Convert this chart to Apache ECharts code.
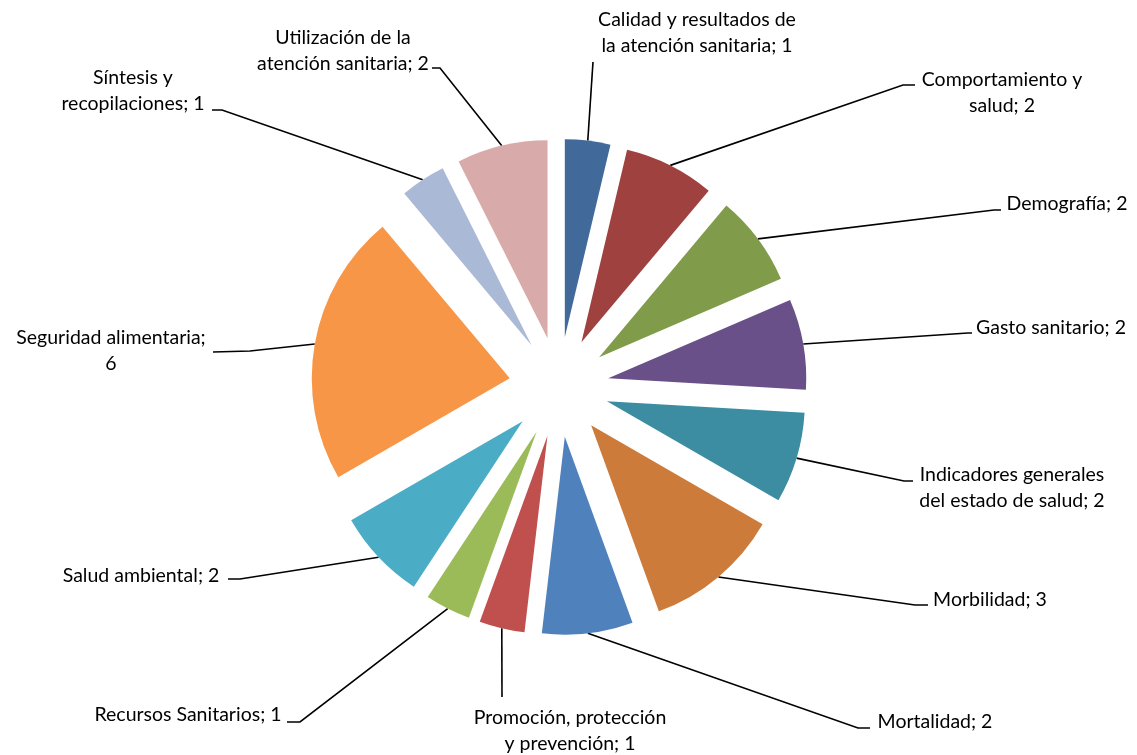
<!DOCTYPE html>
<html>
<head>
<meta charset="utf-8">
<script src="https://cdn.jsdelivr.net/npm/echarts@6/dist/echarts.min.js"></script>
<style>
html,body{margin:0;padding:0;background:#fff;}
#chart{width:1137px;height:755px;}
</style>
</head>
<body>
<div id="chart"></div>
<script>
// ---- data ----
const categories = [
  'Calidad y resultados de\nla atención sanitaria',
  'Comportamiento y\nsalud',
  'Demografía',
  'Gasto sanitario',
  'Indicadores generales\ndel estado de salud',
  'Morbilidad',
  'Mortalidad',
  'Promoción, protección\ny prevención',
  'Recursos Sanitarios',
  'Salud ambiental',
  'Seguridad alimentaria',
  'Síntesis y\nrecopilaciones',
  'Utilización de la\natención sanitaria'
];
const values = [1, 2, 2, 2, 2, 3, 2, 1, 1, 2, 6, 1, 2];
const colors = ['#416A9A','#9E413F','#809C4A','#6A5088','#3C8CA2','#CC7B3A','#4F81BD','#C0504D','#9BBB59','#4BACC6','#F79646','#AAB9D6','#D9AAAA'];
// categories whose label breaks after the separator
const breakAfterSep = ['Seguridad alimentaria'];

// ---- layout ----
const CENTER = [559, 387];
const RADIUS = 198;
const EXPLODE = 50;
// label text centre, knee and end of leader line
const labelLayoutSpec = [
  {x: 697, y: 33,  knee: [593, 62],  end: [593, 62]},
  {x: 1002, y: 93, knee: [903, 85],  end: [915, 85]},
  {x: 1067, y: 204, knee: [994, 210], end: [1001, 210]},
  {x: 1051, y: 328, knee: [968, 333], end: [972, 333]},
  {x: 1012, y: 488, knee: [904, 481], end: [913, 481]},
  {x: 990, y: 600, knee: [915, 605], end: [928, 605]},
  {x: 935, y: 722, knee: [858, 728], end: [870, 728]},
  {x: 570, y: 731, knee: [502, 697], end: [502, 697]},
  {x: 188, y: 715, knee: [300, 722], end: [287, 722]},
  {x: 141, y: 576, knee: [240, 579], end: [228, 579]},
  {x: 111, y: 351, knee: [250, 351], end: [213, 352]},
  {x: 133, y: 91,  knee: [222, 110], end: [212, 110]},
  {x: 343, y: 51,  knee: [440, 68],  end: [432, 68]}
];

const sliceData = categories.map((name, i) => ({
  name: name,
  value: values[i],
  selected: true,
  itemStyle: {color: colors[i]}
}));
const labelData = categories.map((name, i) => ({
  name: name,
  value: values[i],
  label: breakAfterSep.indexOf(name) >= 0 ? {formatter: '{b};\n{c}'} : undefined
}));

const chart = echarts.init(document.getElementById('chart'), null, {renderer: 'canvas'});
chart.setOption({
  animation: false,
  backgroundColor: '#ffffff',
  series: [{
    type: 'pie',
    center: CENTER,
    radius: [0, RADIUS],
    startAngle: 90,
    clockwise: true,
    selectedMode: 'multiple',
    selectedOffset: EXPLODE,
    silent: true,
    emphasis: {disabled: true},
    itemStyle: {borderWidth: 0},
    label: {show: false},
    labelLine: {show: false},
    data: sliceData,
    z: 2
  }, {
    type: 'pie',
    center: CENTER,
    radius: [0, RADIUS],
    startAngle: 90,
    clockwise: true,
    selectedMode: false,
    silent: true,
    emphasis: {disabled: true},
    avoidLabelOverlap: false,
    itemStyle: {color: 'rgba(0,0,0,0)', borderWidth: 0},
    data: labelData,
    z: 1,
    label: {
      show: true,
      position: 'outside',
      formatter: '{b}; {c}',
      fontFamily: 'Lato',
      fontSize: 19.5,
      lineHeight: 26,
      color: '#000000',
      align: 'center'
    },
    labelLine: {
      show: true,
      length: 20,
      length2: 10,
      lineStyle: {color: '#000000', width: 1.6}
    },
    labelLayout: function (p) {
      const L = labelLayoutSpec[p.dataIndex];
      const s0 = p.labelLinePoints[0];
      const vx = s0[0] - CENTER[0], vy = s0[1] - CENTER[1];
      const len = Math.sqrt(vx * vx + vy * vy) || 1;
      const s = [s0[0] + vx / len * EXPLODE, s0[1] + vy / len * EXPLODE];
      return {
        x: L.x,
        y: L.y,
        align: 'center',
        verticalAlign: 'middle',
        labelLinePoints: [s, L.knee, L.end]
      };
    }
  }]
});
</script>
</body>
</html>
